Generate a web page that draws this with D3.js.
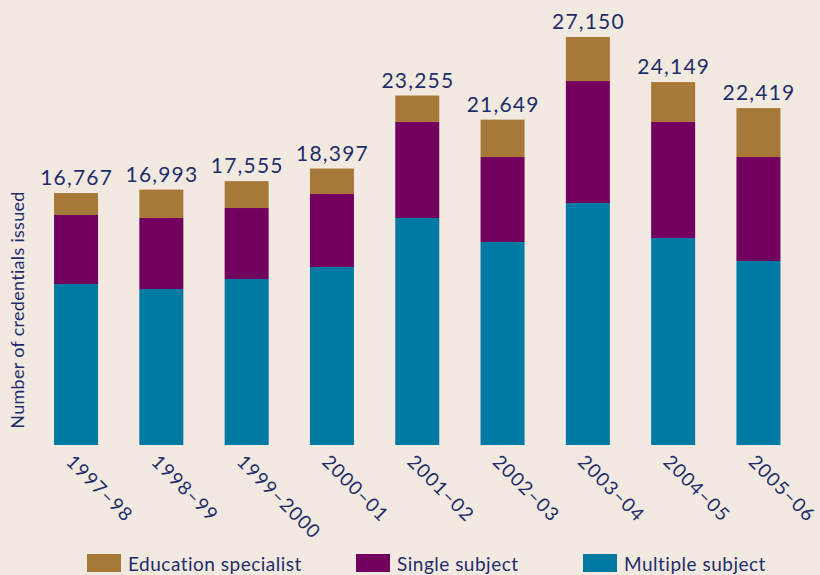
<!DOCTYPE html>
<html><head><meta charset="utf-8">
<script src="https://cdn.jsdelivr.net/npm/d3@7"></script>
<style>
html,body{margin:0;padding:0;background:#F2E9E1;}
svg{display:block;}
text{font-family:"Lato","Open Sans",sans-serif;fill:#1F2D6B;}
</style></head>
<body>
<svg id="c" width="820" height="575"></svg>
<script>
const years = ["1997–98","1998–99","1999–2000","2000–01","2001–02","2002–03","2003–04","2004–05","2005–06"];
const multiple = [10712,10379,11045,11843,15103,13506,16101,13772,12242];
const single = [4591,4724,4724,4857,6387,5655,8117,7718,6919];
const totals = [16767,16993,17555,18397,23255,21649,27150,24149,22419];
const education = totals.map((t,i)=>t-multiple[i]-single[i]);
const seriesNames = ["Multiple subject","Single subject","Education specialist"];
const colors = {"Multiple subject":"#0079A3","Single subject":"#72005E","Education specialist":"#A67939"};

const rows = years.map((y,i)=>({year:y,"Multiple subject":multiple[i],"Single subject":single[i],"Education specialist":education[i]}));
const svg = d3.select("#c");
const x = d3.scaleBand().domain(years).range([33.4,801.1]).paddingInner(0.484).paddingOuter(0.242);
const y = d3.scaleLinear().domain([0,28000]).range([445,24.2]);
const stack = d3.stack().keys(seriesNames)(rows);

svg.append("g").selectAll("g").data(stack).join("g")
  .attr("fill",d=>colors[d.key])
  .selectAll("rect").data(d=>d).join("rect")
  .attr("x",d=>x(d.data.year)).attr("width",x.bandwidth())
  .attr("y",d=>y(d[1])).attr("height",d=>y(d[0])-y(d[1]));

svg.append("g").selectAll("text").data(years).join("text")
  .attr("x",(d,i)=>x(d)+x.bandwidth()/2+0.6).attr("y",(d,i)=>y(totals[i])-8)
  .attr("text-anchor","middle").attr("font-size",21).attr("letter-spacing",1.2)
  .text((d,i)=>d3.format(",")(totals[i]));

svg.append("g").selectAll("text").data(years).join("text")
  .attr("transform",d=>`translate(${x(d)+x.bandwidth()/2-11},${463}) rotate(45)`)
  .attr("font-size",19).attr("letter-spacing",1.1).text(d=>d);

svg.append("text").attr("transform","translate(24,310) rotate(-90)")
  .attr("text-anchor","middle").attr("font-size",18).attr("letter-spacing",0.3).text("Number of credentials issued");

const legend = [["Education specialist",87],["Single subject",356],["Multiple subject",583]];
const lg = svg.append("g").selectAll("g").data(legend).join("g")
  .attr("transform",d=>`translate(${d[1]},554)`);
lg.append("rect").attr("width",34).attr("height",18).attr("fill",d=>colors[d[0]]);
lg.append("text").attr("x",41).attr("y",17).attr("font-size",19).attr("letter-spacing",0.5).text(d=>d[0]);
</script>
</body></html>
